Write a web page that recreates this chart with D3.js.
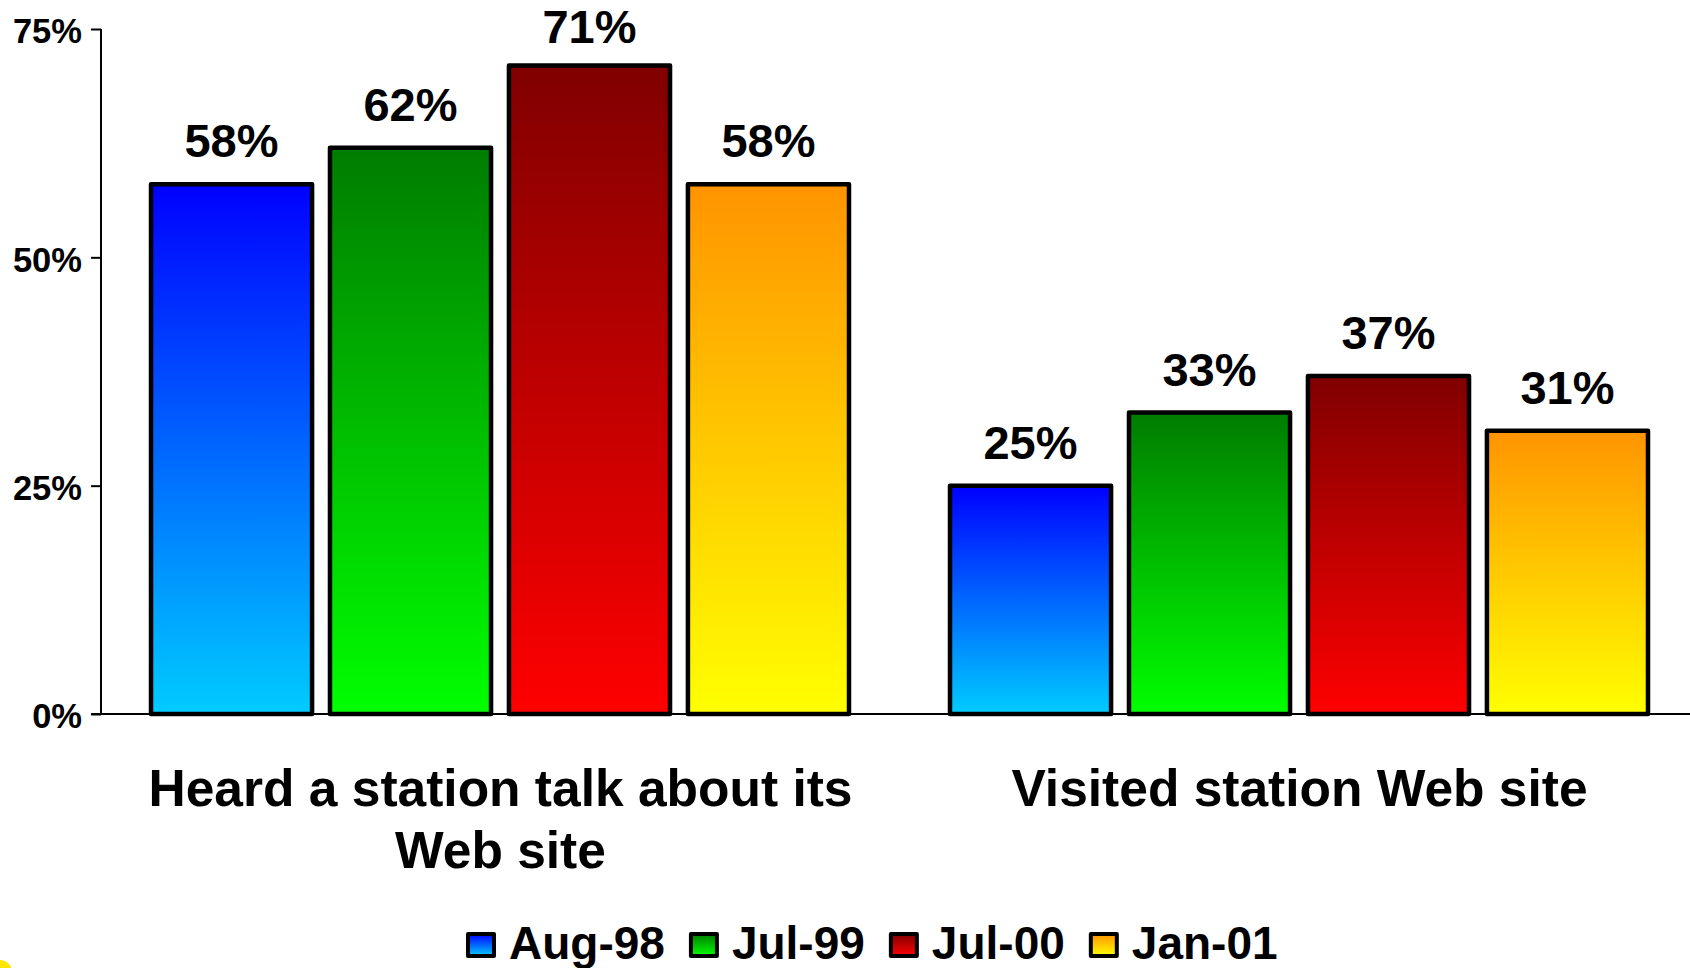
<!DOCTYPE html>
<html>
<head>
<meta charset="utf-8">
<script src="https://cdn.jsdelivr.net/npm/d3@7"></script>
<style>
  html, body { margin: 0; padding: 0; background: #ffffff; }
  svg { display: block; font-family: "Liberation Sans", Arial, sans-serif; font-weight: bold; }
</style>
</head>
<body>
<svg id="chart" width="1690" height="968"></svg>
<script>
// ---- data ----
const categories = ["Heard a station talk about its Web site", "Visited station Web site"];
const categoryLines = [["Heard a station talk about its", "Web site"], ["Visited station Web site"]];
const seriesNames = ["Aug-98", "Jul-99", "Jul-00", "Jan-01"];
const aug98 = [58, 25];
const jul99 = [62, 33];
const jul00 = [71, 37];
const jan01 = [58, 31];
const yTicks = [0, 25, 50, 75];
const gradTop = ["#0000ff", "#007c00", "#800000", "#ff9400"];
const gradBottom = ["#00ccff", "#00ff00", "#ff0000", "#ffff00"];

const seriesValues = [aug98, jul99, jul00, jan01];

const svg = d3.select("#chart");
const W = 1690, H = 968;

// gradients
const defs = svg.append("defs");
seriesNames.forEach((s, i) => {
  const g = defs.append("linearGradient")
    .attr("id", "grad" + i)
    .attr("x1", 0).attr("y1", 0).attr("x2", 0).attr("y2", 1);
  g.append("stop").attr("offset", "0%").attr("stop-color", gradTop[i]);
  g.append("stop").attr("offset", "100%").attr("stop-color", gradBottom[i]);
});

// scales
const axisX = 101;
const y = d3.scaleLinear().domain([0, 75]).range([714, 29]);
const x0 = d3.scaleBand().domain(categories).range([axisX, 1699]).padding(0);
const x1 = d3.scaleBand().domain(seriesNames).range([50, 748]).paddingInner(0.1).paddingOuter(0);

// baseline (extends to right edge)
svg.append("line")
  .attr("x1", axisX - 10).attr("x2", W)
  .attr("y1", y(0)).attr("y2", y(0))
  .attr("stroke", "#000").attr("stroke-width", 2);

// y axis
const yAxis = d3.axisLeft(y)
  .tickValues(yTicks)
  .tickFormat(d => d + "%")
  .tickSize(10)
  .tickPadding(9);
const ga = svg.append("g").attr("transform", `translate(${axisX},0)`).call(yAxis);
ga.select(".domain").attr("stroke", "#000").attr("stroke-width", 2)
  .attr("d", `M0,${y(75)}V${y(0)}`);
ga.selectAll(".tick line").attr("stroke", "#000").attr("stroke-width", 2);
ga.selectAll(".tick text")
  .attr("fill", "#000")
  .attr("dy", "0.4em")
  .style("font-size", "34.5px")
  .style("font-weight", "bold")
  .style("font-family", "'Liberation Sans', Arial, sans-serif");

// bars
const groups = svg.append("g").selectAll("g")
  .data(categories)
  .join("g")
  .attr("transform", d => `translate(${x0(d)},0)`);

groups.selectAll("rect")
  .data((c, ci) => seriesNames.map((s, si) => ({ s, si, v: seriesValues[si][ci] })))
  .join("rect")
  .attr("x", d => x1(d.s))
  .attr("y", d => y(d.v))
  .attr("width", x1.bandwidth())
  .attr("height", d => y(0) - y(d.v))
  .attr("fill", d => `url(#grad${d.si})`)
  .attr("stroke", "#000")
  .attr("stroke-width", 4.5)
  .attr("stroke-linejoin", "round");

// value labels (kept inside the top edge)
groups.selectAll("text.val")
  .data((c, ci) => seriesNames.map((s, si) => ({ s, si, v: seriesValues[si][ci] })))
  .join("text")
  .attr("class", "val")
  .attr("x", d => x1(d.s) + x1.bandwidth() / 2)
  .attr("y", d => Math.max(y(d.v) - 27, 43))
  .attr("text-anchor", "middle")
  .attr("fill", "#000")
  .style("font-size", "47px")
  .text(d => d.v + "%");

// category labels
categories.forEach((c, ci) => {
  const cx = x0(c) + x0.bandwidth() / 2;
  const t = svg.append("text")
    .attr("text-anchor", "middle")
    .attr("fill", "#000")
    .style("font-size", "51.5px");
  categoryLines[ci].forEach((line, li) => {
    t.append("tspan").attr("x", cx).attr("y", 806 + li * 62).text(line);
  });
});

// legend
let lx = 466;
const legY = 932;
seriesNames.forEach((s, i) => {
  svg.append("rect")
    .attr("x", lx + 2).attr("y", legY + 2)
    .attr("width", 26).attr("height", 22)
    .attr("fill", `url(#grad${i})`)
    .attr("stroke", "#000").attr("stroke-width", 4)
    .attr("stroke-linejoin", "round");
  const t = svg.append("text")
    .attr("x", lx + 43).attr("y", 959)
    .attr("fill", "#000")
    .style("font-size", "46px")
    .text(s);
  lx = lx + 43 + t.node().getComputedTextLength() + 24;
});

// small decorative corner mark from the slide
svg.append("circle")
  .attr("cx", 0).attr("cy", H + 4).attr("r", 12)
  .attr("fill", "#ffe600");
</script>
</body>
</html>
